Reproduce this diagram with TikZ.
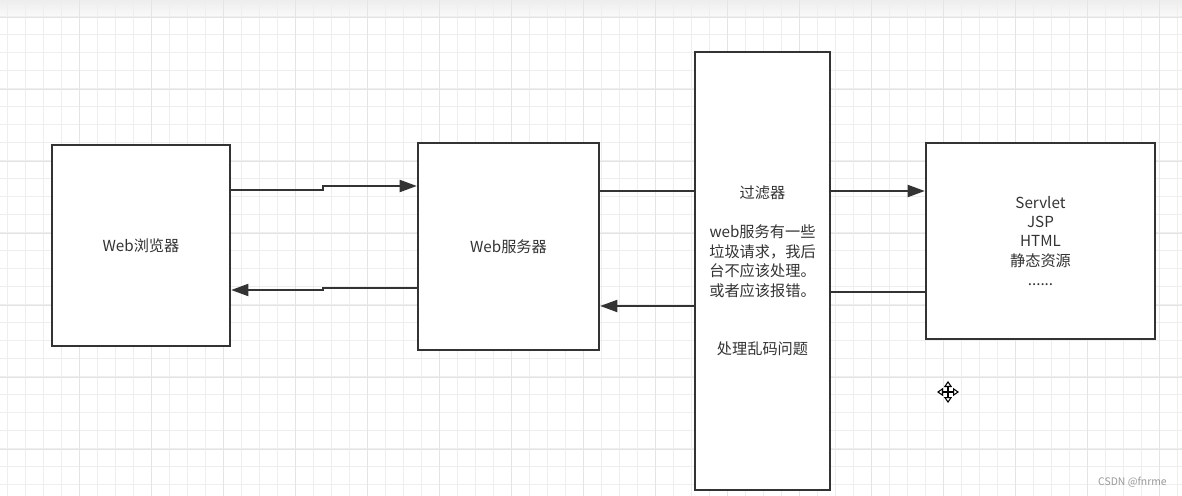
\documentclass[tikz,border=0pt]{standalone}
\usepackage{fontspec}
\setmainfont{Noto Sans CJK SC}
\usepackage{xcolor}
\usetikzlibrary{arrows.meta}
\definecolor{lineclr}{HTML}{333333}
\definecolor{gridminor}{HTML}{EEEEEE}
\definecolor{gridmajor}{HTML}{E4E4E4}

\begin{document}
\begin{tikzpicture}[x=0.75pt,y=-0.75pt,
  box/.style={draw=lineclr, line width=1.7pt, fill=white, inner sep=0pt,
    text=lineclr, align=center, font=\fontsize{11.4pt}{14.6pt}\selectfont},
  link/.style={draw=lineclr, line width=1.7pt},
  arr/.style={link, -{Triangle[length=13pt,width=9pt]}},
  cursor/.style={line width=0.8pt, {Triangle[open,length=4.5pt,width=6pt]}-{Triangle[open,length=4.5pt,width=6pt]}}]
\useasboundingbox (0,0) rectangle (1182,496);
\fill[white] (0,0) rectangle (1182,496);
\shade[top color=black!7, bottom color=black!2] (0,0) rectangle (1182,16.7);

\foreach \x in {7.3,25.3,...,1182} \draw[gridminor, line width=0.9pt] (\x,0) -- (\x,496);
\foreach \y in {16.7,34.7,...,496} \draw[gridminor, line width=0.9pt] (0,\y) -- (1182,\y);
\foreach \x in {79.3,151.3,...,1182} \draw[gridmajor, line width=0.9pt] (\x,0) -- (\x,496);
\foreach \y in {17.3,89.3,...,496} \draw[gridmajor, line width=0.9pt] (0,\y) -- (1182,\y);

\node[box, minimum width=133.5pt, minimum height=150.75pt] (browser) at (141,245.5) {Web浏览器};
\node[box, minimum width=135.75pt, minimum height=155.25pt] (server) at (508.5,246.5) {Web服务器};
\node[box, minimum width=101.25pt, minimum height=328.5pt] (filter) at (762.5,271)
  {过滤器\\[14.6pt]web服务有一些\\垃圾请求，我后\\台不应该处理。\\或者应该报错。\\[29.2pt]处理乱码问题};
\node[box, minimum width=171.75pt, minimum height=147pt] (target) at (1040.5,241)
  {Servlet\\JSP\\HTML\\静态资源\\......};

\draw[arr] (browser.east |- 0,190) -- (323,190) -- (323,186) -- (server.west |- 0,186);
\draw[arr] (server.west |- 0,288) -- (323,288) -- (323,290) -- (browser.east |- 0,290);
\draw[link] (server.east |- 0,191) -- (filter.west |- 0,191);
\draw[arr] (filter.west |- 0,306) -- (server.east |- 0,306);
\draw[arr] (filter.east |- 0,191) -- (target.west |- 0,191);
\draw[link] (target.west |- 0,292) -- (filter.east |- 0,292);

\draw[cursor] (937,392) -- (959,392);
\draw[cursor] (948,381) -- (948,403);

\node[anchor=east, inner sep=0pt, text=black!40, font=\fontsize{7.8pt}{9pt}\selectfont] (mark) at (1167,482) {CSDN @fnrme};
\end{tikzpicture}
\end{document}
